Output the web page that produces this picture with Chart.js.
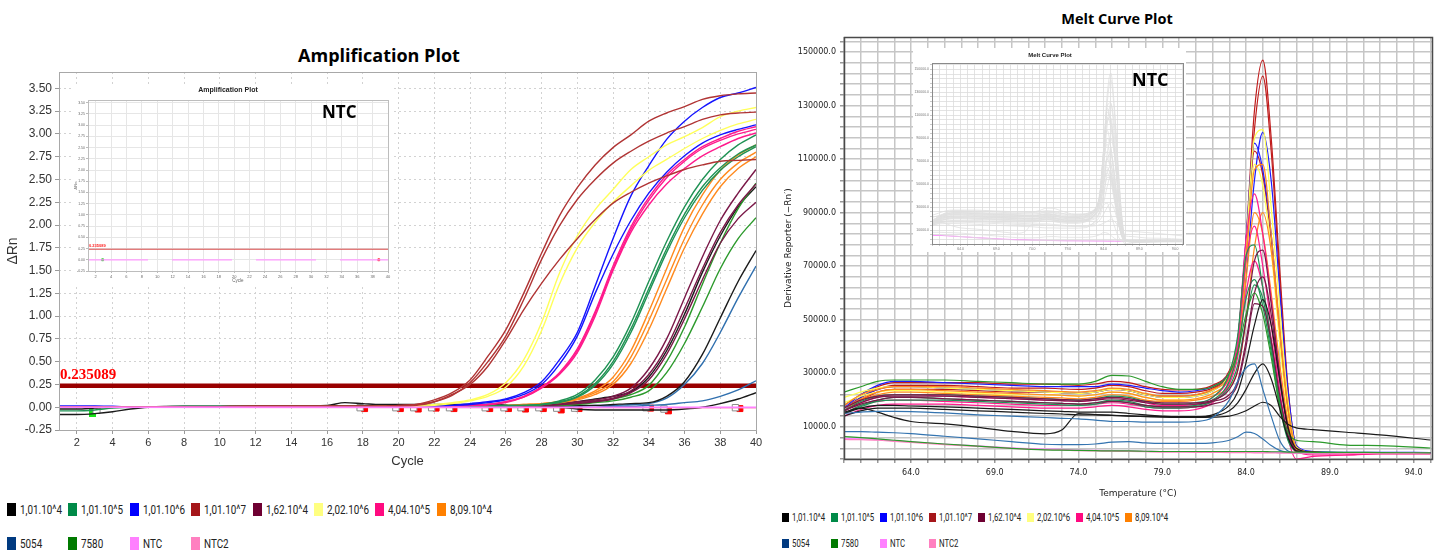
<!DOCTYPE html>
<html lang="es">
<head>
<meta charset="utf-8">
<title>Amplification Plot / Melt Curve Plot</title>
<script src="https://cdn.jsdelivr.net/npm/chart.js"></script>
<style>
  body { margin: 0; background: #fff; }
  #page { position: relative; width: 1437px; height: 552px; overflow: hidden; background: #fff; }
  #page canvas { position: absolute; }
  .plot-title { position: absolute; font-family: 'Open Sans', sans-serif; font-weight: 700; color: #000; text-align: center; white-space: nowrap; }
  .ntc { position: absolute; font-family: 'Open Sans', sans-serif; font-weight: 700; color: #000; white-space: nowrap; }
  .inset-title { position: absolute; font-family: 'Liberation Sans', Arial, sans-serif; font-weight: 700; color: #222; text-align: center; white-space: nowrap; }
  .leg-item { position: absolute; display: flex; align-items: center; white-space: nowrap; font-family: 'Roboto', sans-serif; color: #222; }
  .leg-box { display: inline-block; flex: none; }
  .leg-text { display: inline-block; transform-origin: left center; }
</style>
</head>
<body>
<div id="page">
  <div class="plot-title" style="left:279px;top:43px;width:200px;font-size:18px;line-height:24px;">Amplification Plot</div>
  <div class="plot-title" style="left:1017px;top:9px;width:200px;font-size:14.5px;line-height:20px;">Melt Curve Plot</div>

  <canvas id="amp-chart" width="770" height="420" style="left:0;top:60px"></canvas>
  <canvas id="amp-inset" width="320" height="200" style="left:73px;top:85px;background:#fff"></canvas>
  <div class="inset-title" style="left:178px;top:86px;width:100px;font-size:7px;line-height:8px;">Amplification Plot</div>
  <div class="ntc" style="left:322px;top:100px;font-size:17px;line-height:24px;">NTC</div>

  <canvas id="melt-chart" width="667" height="505" style="left:770px;top:0"></canvas>
  <canvas id="melt-inset" width="273" height="204" style="left:913px;top:48px;background:#fff"></canvas>
  <div class="inset-title" style="left:1010px;top:51px;width:80px;font-size:6px;line-height:8px;">Melt Curve Plot</div>
  <div class="ntc" style="left:1132px;top:67px;font-size:18px;line-height:25px;">NTC</div>
</div>

<script>
//MUESTRAS Y COLORES
const sampleNames = ['1,01.10^4', '1,01.10^5', '1,01.10^6', '1,01.10^7', '1,62.10^4', '2,02.10^6',
    '4,04.10^5', '8,09.10^4', '5054', '7580', 'NTC', 'NTC2'];
const legendColors = ['#000000', '#008a48', '#0000ff', '#a5161a', '#6e0032', '#ffff80',
    '#ff0a80', '#ff8000', '#003a80', '#007a00', '#ff80ff', '#ff80c0'];
const lineColors = ['#1a1a1a', '#1f9254', '#1414ff', '#b03434', '#7a1848', '#ffff5a',
    '#ff1a8c', '#ff8a1e', '#2f6fae', '#2c9a2c', '#ff80ff', '#ff80c0'];
const meltColors = ['#1a1a1a', '#1f9254', '#1c1cff', '#c01c1c', '#7a1848', '#ffff50',
    '#ff1a8c', '#ff8a1e', '#3474b0', '#2c9a2c', '#ff80ff', '#ff80c0'];

//AMPLIFICACION (ciclo / delta Rn)
const ampCycles = [1, 2, 3, 4, 5, 6, 8, 12, 16, 17, 18, 19, 20, 21, 22, 23, 24,
    25, 26, 27, 28, 29, 30, 31, 32, 33, 34, 35, 36, 37, 38, 39, 40];
const ampXTicks = [2, 4, 6, 8, 10, 12, 14, 16, 18, 20, 22, 24, 26, 28, 30, 32, 34, 36, 38, 40];
const ampYTicks = [-0.25, 0, 0.25, 0.5, 0.75, 1, 1.25, 1.5, 1.75, 2, 2.25, 2.5, 2.75, 3, 3.25, 3.5];

const ampRedA = [0, 0, 0, 0, 0, 0, 0, 0.01, 0.01, 0.01, 0.01, 0.01, 0.02, 0.03, 0.08,
    0.16, 0.30, 0.56, 0.85, 1.25, 1.69, 2.10, 2.41, 2.66, 2.85, 2.99, 3.14, 3.23, 3.30, 3.38, 3.42, 3.44, 3.45];
const ampRedB = [0, 0, 0, 0, 0, 0, 0, 0.01, 0.01, 0.01, 0.01, 0.01, 0.01, 0.02, 0.06,
    0.13, 0.27, 0.50, 0.78, 1.18, 1.62, 1.99, 2.28, 2.50, 2.68, 2.81, 2.92, 3.01, 3.08, 3.16, 3.21, 3.23, 3.24];
const ampRedC = [0, 0, 0, 0, 0, 0, 0, 0.01, 0.01, 0.01, 0.01, 0.01, 0.02, 0.03, 0.06,
    0.14, 0.25, 0.45, 0.74, 1.07, 1.36, 1.62, 1.85, 2.06, 2.24, 2.36, 2.46, 2.54, 2.61, 2.66, 2.70, 2.71, 2.72];
const ampYellowA = [0, 0, 0, 0, 0, 0, 0, 0, 0, 0, 0, 0.01, 0.01, 0.02, 0.03,
    0.05, 0.08, 0.14, 0.27, 0.52, 0.93, 1.47, 1.88, 2.17, 2.39, 2.61, 2.75, 2.88, 2.97, 3.07, 3.19, 3.25, 3.29];
const ampYellowB = [0, 0, 0, 0, 0, 0, 0, 0, 0, 0, 0, 0.01, 0.01, 0.01, 0.02,
    0.04, 0.07, 0.12, 0.22, 0.45, 0.84, 1.35, 1.75, 2.03, 2.25, 2.43, 2.60, 2.72, 2.84, 2.95, 3.04, 3.11, 3.16];
const ampBlueA = [0.01, 0.01, 0.01, 0.01, 0, 0, 0, 0, 0, 0, 0, 0, 0, 0.01, 0.01,
    0.02, 0.04, 0.06, 0.09, 0.16, 0.28, 0.52, 0.82, 1.33, 1.85, 2.32, 2.65, 2.94, 3.14, 3.29, 3.40, 3.45, 3.51];
const ampBlueB = [0.01, 0.01, 0.01, 0, 0, 0, 0, 0, 0, 0, 0, 0, 0, 0, 0.01,
    0.02, 0.03, 0.05, 0.08, 0.14, 0.25, 0.47, 0.78, 1.25, 1.68, 2.05, 2.35, 2.58, 2.76, 2.90, 2.99, 3.05, 3.10];
const ampPinkA = [0, 0, 0, 0, 0, 0, 0, 0, 0, 0, 0, 0, 0, 0, 0.01,
    0.01, 0.02, 0.03, 0.06, 0.12, 0.22, 0.38, 0.64, 1.05, 1.55, 1.98, 2.30, 2.55, 2.72, 2.86, 2.95, 3.03, 3.08];
const ampPinkB = [0, 0, 0, 0, 0, 0, 0, 0, 0, 0, 0, 0, 0, 0, 0.01,
    0.01, 0.02, 0.03, 0.05, 0.11, 0.21, 0.36, 0.60, 1.00, 1.50, 1.92, 2.22, 2.45, 2.62, 2.76, 2.86, 2.95, 3.01];
const ampPinkC = [0, 0, 0, 0, 0, 0, 0, 0, 0, 0, 0, 0, 0, 0, 0.01,
    0.01, 0.02, 0.03, 0.06, 0.11, 0.22, 0.37, 0.62, 1.03, 1.52, 1.95, 2.27, 2.52, 2.70, 2.84, 2.93, 3.00, 3.05];
const ampGreenA = [-0.04, -0.04, -0.03, -0.01, 0, 0, 0.01, 0.01, 0.01, 0.01, 0.01, 0.01, 0.01, 0.01, 0.01,
    0.01, 0.01, 0.01, 0.02, 0.02, 0.03, 0.07, 0.14, 0.30, 0.55, 0.92, 1.38, 1.82, 2.20, 2.50, 2.72, 2.88, 2.99];
const ampGreenB = [0, 0, 0, 0, 0, 0, 0, 0.01, 0.01, 0.01, 0.01, 0.01, 0.01, 0.01, 0.01,
    0.01, 0.01, 0.01, 0.02, 0.02, 0.03, 0.06, 0.12, 0.26, 0.50, 0.86, 1.30, 1.74, 2.12, 2.42, 2.63, 2.78, 2.88];
const ampGreenC = [0, 0, 0, 0, 0, 0, 0, 0.01, 0.01, 0.01, 0.01, 0.01, 0.01, 0.01, 0.01,
    0.01, 0.01, 0.01, 0.01, 0.02, 0.03, 0.05, 0.11, 0.24, 0.47, 0.82, 1.26, 1.70, 2.08, 2.38, 2.60, 2.75, 2.86];
const ampOrangeA = [0, 0, 0, 0, 0, 0, 0, 0, 0, 0, 0, 0, 0, 0, 0,
    0.01, 0.01, 0.01, 0.02, 0.03, 0.04, 0.06, 0.10, 0.18, 0.33, 0.62, 1.05, 1.52, 1.98, 2.33, 2.60, 2.77, 2.88];
const ampOrangeB = [0, 0, 0, 0, 0, 0, 0, 0, 0, 0, 0, 0, 0, 0, 0,
    0.01, 0.01, 0.01, 0.02, 0.03, 0.04, 0.06, 0.09, 0.16, 0.28, 0.55, 0.95, 1.40, 1.85, 2.22, 2.50, 2.68, 2.80];
const ampOrangeC = [0, 0, 0, 0, 0, 0, 0, 0, 0, 0, 0, 0, 0, 0, 0,
    0.01, 0.01, 0.01, 0.01, 0.02, 0.03, 0.05, 0.08, 0.14, 0.25, 0.48, 0.85, 1.30, 1.75, 2.12, 2.42, 2.62, 2.75];
const ampMaroonA = [0, 0, 0, 0, 0, 0, 0, 0, 0, 0, 0, 0, 0, 0, 0,
    0, 0.01, 0.01, 0.01, 0.02, 0.03, 0.04, 0.06, 0.08, 0.12, 0.21, 0.42, 0.75, 1.20, 1.65, 2.05, 2.35, 2.61];
const ampMaroonB = [0, 0, 0, 0, 0, 0, 0, 0, 0, 0, 0, 0, 0, 0, 0,
    0, 0.01, 0.01, 0.01, 0.02, 0.02, 0.03, 0.05, 0.07, 0.10, 0.18, 0.36, 0.66, 1.08, 1.52, 1.92, 2.22, 2.45];
const ampMaroonC = [0, 0, 0, 0, 0, 0, 0, 0, 0, 0, 0, 0, 0, 0, 0,
    0, 0, 0.01, 0.01, 0.01, 0.02, 0.03, 0.04, 0.06, 0.09, 0.16, 0.30, 0.58, 0.97, 1.40, 1.80, 2.07, 2.25];
const amp7580A = [0, 0, 0, 0, 0, 0, 0, 0, 0, 0, 0, 0, 0, 0, 0,
    0, 0, 0, 0.01, 0.01, 0.02, 0.02, 0.03, 0.05, 0.07, 0.11, 0.18, 0.38, 0.70, 1.10, 1.52, 1.85, 2.08];
const amp7580B = [0, 0, 0, 0, 0, 0, 0, 0, 0, 0, 0, 0, 0, 0, 0,
    0, 0, 0, 0.01, 0.01, 0.02, 0.03, 0.04, 0.06, 0.09, 0.14, 0.24, 0.50, 0.88, 1.35, 1.80, 2.18, 2.46];
const ampBlackA = [0, 0, 0, 0, 0, 0, 0, 0, 0, 0, 0, 0, 0, 0, 0,
    0, 0, 0, 0, 0.01, 0.01, 0.01, 0.02, 0.02, 0.03, 0.04, 0.05, 0.12, 0.28, 0.58, 0.98, 1.38, 1.72];
const ampBlackB = [-0.02, -0.02, -0.01, 0, 0, 0, 0, 0, 0, 0, 0, 0, 0, 0, 0,
    0, 0.01, 0.01, 0.01, 0.02, 0.03, 0.04, 0.06, 0.09, 0.12, 0.17, 0.33, 0.62, 1.02, 1.48, 1.88, 2.20, 2.42];
const ampBlackC = [-0.08, -0.08, -0.07, -0.05, -0.02, 0, 0.01, 0.01, 0.02, 0.05, 0.04, 0.03, 0.03, 0.03, 0.03,
    0.03, 0.03, 0.03, 0.02, 0.01, 0.01, 0, -0.02, -0.03, -0.03, -0.03, -0.03, -0.03, -0.02, 0, 0.04, 0.09, 0.16];
const amp5054A = [0, 0, 0, 0, 0, 0, 0, 0, 0, 0, 0, 0, 0, 0, 0,
    0, 0, 0, 0, 0, 0.01, 0.01, 0.01, 0.02, 0.02, 0.03, 0.04, 0.10, 0.25, 0.48, 0.82, 1.20, 1.55];
const amp5054B = [0, 0, 0, 0, 0, 0, 0, 0, 0, 0, 0, 0, 0, 0, 0,
    0, 0, 0, 0, 0, 0, 0, 0, 0, 0.01, 0.01, 0.02, 0.03, 0.05, 0.07, 0.12, 0.19, 0.29];
const ntcCycles = [1, 40];
const ampNtc = [0, 0];
const ampNtc2 = [0, -0.005];

const thresholdValue = 0.235089;
const thresholdCycles = [1, 40];

//marcas Ct sobre la linea base
const ctCycles = [18.1, 20.1, 21.1, 22.1, 23.1, 25.1, 26.15, 27.1, 28.1, 29.1, 30.1, 34.1, 35.1, 39.1];
const ctValues = [-0.015, -0.015, -0.02, -0.01, -0.015, -0.015, -0.015, -0.02, -0.015, -0.03, -0.015, -0.01, -0.04, -0.015];
const ctBoxCycles = [17.85, 19.85, 20.85, 21.85, 22.85, 24.85, 25.9, 26.85, 27.85, 28.85, 29.85, 33.85, 34.85, 38.85];
const ctBoxValues = [-0.005, -0.005, -0.005, -0.005, -0.005, -0.005, -0.005, -0.005, -0.005, -0.01, -0.01, -0.005, -0.02, -0.005];
const startBoxCycles = [3.1];
const startBoxValues = [-0.03];
const startMarkCycles = [2.9];
const startMarkValues = [-0.05];

//MELT (temperatura / derivada, en miles)
const meltTemps = [60, 61, 62, 63, 64, 66, 68, 70, 72, 73, 74, 75, 76, 77, 78, 79,
    80, 81, 82, 83, 83.5, 84, 84.5, 85, 85.5, 86, 86.5, 87, 88, 90, 92, 95];
const meltXLabels = [64, 69, 74, 79, 84, 89, 94];
const meltYLabels = [10, 30, 50, 70, 90, 110, 130, 150];

const meltRedA = [18, 22, 25, 26.5, 26.5, 26.5, 26.5, 26, 26, 25.8, 25.5, 26, 27, 26.5, 25, 24,
    23.8, 24, 25.5, 31, 42, 80, 128, 147, 118, 70, 25, 3, 0.5, 0.3, 0.3, 0.2];
const meltRedB = [17, 21, 24, 25.5, 25.5, 25.5, 25, 24.5, 24.5, 24.2, 24, 24.5, 25.5, 25, 23.5, 22.5,
    22.5, 23, 24.5, 30, 40, 75, 121, 141, 113, 66, 23, 2.5, 0.5, 0.3, 0.3, 0.3];
const meltRedC = [16, 20, 23, 24, 24, 24, 23.5, 23, 23, 22.8, 22.5, 23, 24, 23.5, 22, 21.5,
    21.5, 22, 24, 30, 42, 78, 113, 104, 80, 45, 16, 2, 0.5, 0.3, 0.3, 0.3];
const meltYellowA = [21, 23, 24.5, 25, 25, 24.5, 24, 23.5, 23, 22.8, 22.5, 23, 24, 23.5, 22, 21,
    21, 21.5, 23.5, 30, 42, 78, 118, 121, 92, 55, 20, 2.5, 0.5, 0.3, 0.3, 0.3];
const meltYellowB = [19, 21.5, 23, 23.5, 23.5, 23, 22.5, 22, 22, 21.8, 21.5, 22, 23, 22.5, 21, 20,
    20, 20.5, 22.5, 28, 38, 70, 108, 100, 76, 42, 14, 2, 0.5, 0.3, 0.3, 0.3];
const meltBlueA = [17, 22, 25.5, 27, 27, 26.5, 26, 25.5, 25, 25, 25, 25, 26, 25.5, 24.5, 23.5,
    23, 23.5, 25, 30, 38, 66, 102, 120, 102, 62, 24, 3, 0.8, 0.5, 0.5, 0.4];
const meltBlueB = [16, 21, 24, 25, 25, 24.5, 24, 23.5, 23, 22.8, 22.5, 23, 24, 23.5, 22, 21,
    21, 21.5, 23.5, 30, 42, 80, 116, 106, 82, 46, 16, 2, 0.5, 0.4, 0.4, 0.3];
const meltOrangeA = [18, 22, 24, 25, 25, 25, 24.5, 24, 23.5, 23.2, 23, 23.5, 24.5, 24, 22.5, 21.5,
    21.5, 22, 24, 29, 40, 72, 106, 108, 82, 48, 17, 2, 0.5, 0.3, 0.3, 0.3];
const meltOrangeB = [17, 20.5, 23, 24, 24, 23.5, 23, 22.5, 22, 21.8, 21.5, 22, 23, 22.5, 21, 20,
    20, 20.5, 22.5, 28, 38, 65, 90, 82, 60, 34, 12, 1.5, 0.5, 0.3, 0.3, 0.3];
const meltOrangeC = [16, 20, 22, 23, 23, 22.5, 22, 21.5, 21, 20.8, 20.5, 21, 22, 21.5, 20, 19.5,
    19.5, 20, 21.5, 25, 31, 50, 77, 90, 76, 46, 17, 2, 0.5, 0.3, 0.3, 0.3];
const meltPinkA = [16, 19, 21, 22, 22, 21.5, 21, 20.5, 20, 19.8, 19.5, 20, 21, 20.5, 19, 18,
    18, 18.5, 21, 29, 42, 80, 97, 82, 58, 30, 10, 1, -0.5, -0.5, 0, 0];
const meltPinkB = [14, 16.5, 18, 18.5, 18.5, 18.5, 18, 17.5, 17, 17, 17, 17.5, 18, 17.5, 16.5, 16,
    16, 16.5, 19, 27, 40, 72, 85, 70, 48, 24, 6, -2, -1, -0.5, 0, 0];
const meltPinkC = [15, 18, 19.5, 20, 20, 19.5, 19, 18.5, 18, 18, 18, 18.5, 19, 18.5, 17.5, 17,
    17, 17.5, 19.5, 26, 36, 60, 72, 62, 43, 22, 7, 0.5, 0, 0, 0, 0];
const meltGreenA = [16, 19.5, 21.5, 22, 22, 22, 21.5, 21, 20.5, 20.2, 20, 20.5, 21.5, 21, 19.5, 18.5,
    18.5, 19, 21, 30, 44, 74, 78, 62, 42, 20, 6, 1, 0.5, 0.4, 0.4, 0.3];
const meltGreenB = [15, 18, 20, 21, 21, 20.5, 20, 19.5, 19, 18.8, 18.5, 19, 20, 19.5, 18, 17.5,
    17.5, 18, 20, 27, 38, 58, 65, 55, 38, 18, 5, 1, 0.5, 0.4, 0.4, 0.3];
const meltGreenC = [15, 17.5, 19.5, 20, 20, 20, 19.5, 19, 18.5, 18.2, 18, 18.5, 19.5, 19, 17.5, 17,
    17, 17.5, 19.5, 25, 33, 50, 63, 58, 40, 20, 6, 1, 0.5, 0.4, 0.4, 0.3];
const meltMaroonA = [17, 20, 21.5, 22, 22, 22, 21.5, 21, 20.5, 20.2, 20, 20.5, 21, 20.5, 19.5, 19,
    19, 19, 20, 24, 31, 50, 72, 76, 56, 30, 10, 1, 0.5, 0.3, 0.3, 0.3];
const meltMaroonB = [16, 19, 21, 21.5, 21.5, 21.5, 21, 20.5, 20, 19.8, 19.5, 20, 20.5, 20, 19, 18.5,
    18.5, 18.5, 19.5, 22, 27, 42, 60, 66, 52, 28, 9, 1, 0.5, 0.3, 0.3, 0.3];
const meltMaroonC = [16, 18.5, 20, 21, 21, 20.5, 20, 19.5, 19, 18.8, 18.5, 19, 19.5, 19, 18, 17.5,
    17.5, 17.5, 18.5, 21, 26, 40, 56, 55, 42, 22, 7, 1, 0.5, 0.3, 0.3, 0.3];
const melt7580A = [23, 25, 27, 27.5, 27.5, 27.5, 27, 26.5, 26, 26, 26, 27, 29.2, 29, 27, 25,
    24, 24, 25, 30, 38, 52, 60, 52, 36, 18, 8, 5, 4.5, 3.2, 3.0, 2.1];
const melt7580B = [6.4, 6.0, 5.5, 5.0, 4.5, 3.6, 2.8, 2.0, 1.4, 1.3, 1.2, 1.1, 1.0, 1.0, 0.9, 0.8,
    0.8, 0.8, 0.8, 0.8, 0.8, 0.8, 0.8, 0.8, 0.7, 0.7, 0.6, 0.6, 0.5, 0.5, 0.4, 0.3];
const meltBlackA = [15, 17, 18, 18, 17.8, 17.5, 17, 16.5, 16, 15.8, 15.5, 15.5, 15.5, 15, 14.5, 14,
    13.8, 13.8, 14.5, 18, 23, 34, 48, 57.5, 48, 28, 10, 2, 0.5, 0.3, 0.3, 0.3];
const meltBlackB = [15.5, 17, 15.5, 13.5, 12, 11.1, 9.8, 8.3, 7.4, 8.8, 15, 14.6, 14.3, 14.1, 14, 13.8,
    13.7, 13.7, 14, 16, 19, 24, 30, 33.5, 28, 17, 6, 1, 0.5, 0.3, 0.3, 0.3];
const meltBlackC = [14, 16, 17, 17, 17, 16.5, 16, 15.5, 15, 14.8, 14.5, 14.5, 14.3, 14, 13.8, 13.6,
    13.5, 13.5, 13.6, 14, 14.8, 16, 17.8, 19.2, 18, 14, 11, 9.6, 9, 8, 7, 5.1];
const melt5054A = [15, 15.5, 15.8, 15.8, 15.7, 15.2, 14.5, 14, 13.5, 13.2, 13, 12.5, 12, 12, 11.8, 11.8,
    11.8, 12, 13.5, 20, 27, 32, 33.5, 24, 14, 5, 1, 0.3, 0.3, 0.3, 0.3, 0.3];
const melt5054B = [8.2, 8.2, 8, 7.8, 7.5, 6.5, 5.5, 4.5, 3.5, 3.4, 3.4, 3.6, 4.3, 4.5, 4, 3.8,
    3.8, 3.8, 4, 5, 6.3, 8, 7.5, 5.5, 3, 1.2, 0.5, 0.3, 0.3, 0.3, 0.3, 0.3];
const meltNtc = [5.6, 5.5, 5.2, 4.8, 4.4, 3.6, 2.9, 2.2, 1.7, 1.6, 1.3, 1.2, 1.1, 1.0, 0.9, 0.8,
    0.8, 0.7, 0.7, 0.6, 0.6, 0.6, 0.5, 0.5, 0.5, 0.4, 0.4, 0.4, 0.3, 0.3, 0.2, 0.2];
const meltNtc2 = [5.3, 5.2, 5.0, 4.6, 4.2, 3.4, 2.7, 2.0, 1.5, 1.4, 1.1, 1.0, 0.9, 0.8, 0.7, 0.6,
    0.6, 0.5, 0.5, 0.4, 0.4, 0.4, 0.3, 0.3, 0.3, 0.2, 0.2, 0.2, 0.2, 0.1, 0.1, 0.1];

//tablas [muestra, valores]
const ampCurves = [
    [10, ampNtc, ntcCycles], [11, ampNtc2, ntcCycles],
    [3, ampRedA], [3, ampRedB], [3, ampRedC],
    [5, ampYellowA], [5, ampYellowB],
    [2, ampBlueA], [2, ampBlueB],
    [6, ampPinkA], [6, ampPinkB], [6, ampPinkC],
    [1, ampGreenA], [1, ampGreenB], [1, ampGreenC],
    [7, ampOrangeA], [7, ampOrangeB], [7, ampOrangeC],
    [4, ampMaroonA], [4, ampMaroonB], [4, ampMaroonC],
    [9, amp7580A], [9, amp7580B],
    [0, ampBlackA], [0, ampBlackB], [0, ampBlackC],
    [8, amp5054A], [8, amp5054B]
];
const meltCurves = [
    [9, melt7580B], [11, meltNtc2], [10, meltNtc],
    [8, melt5054B], [8, melt5054A],
    [0, meltBlackC], [0, meltBlackB], [0, meltBlackA],
    [9, melt7580A],
    [4, meltMaroonC], [4, meltMaroonB], [4, meltMaroonA],
    [1, meltGreenC], [1, meltGreenB], [1, meltGreenA],
    [6, meltPinkC], [6, meltPinkB], [6, meltPinkA],
    [7, meltOrangeC], [7, meltOrangeB], [7, meltOrangeA],
    [5, meltYellowB], [5, meltYellowA],
    [2, meltBlueB], [2, meltBlueA],
    [3, meltRedC], [3, meltRedB], [3, meltRedA]
];

function toPoints(xs, ys) {
    return xs.map(function (x, i) { return { x: x, y: ys[i] }; });
}

//marco del area de trazado
const plotFrame = {
    id: 'plotFrame',
    afterDatasetsDraw(chart, args, opts) {
        const a = chart.chartArea;
        const ctx = chart.ctx;
        ctx.save();
        ctx.strokeStyle = opts.color || '#999';
        ctx.lineWidth = opts.width || 1;
        ctx.strokeRect(Math.round(a.left) + 0.5, Math.round(a.top) + 0.5,
            Math.round(a.right - a.left), Math.round(a.bottom - a.top));
        ctx.restore();
    }
};

//etiqueta del umbral
const thresholdText = {
    id: 'thresholdText',
    afterDatasetsDraw(chart, args, opts) {
        if (!opts || !opts.text) return;
        const ctx = chart.ctx;
        const x = chart.scales.x.getPixelForValue(opts.x);
        const y = chart.scales.y.getPixelForValue(opts.y);
        ctx.save();
        ctx.font = opts.font;
        ctx.fillStyle = opts.color;
        ctx.textBaseline = 'bottom';
        ctx.fillText(opts.text, x + opts.dx, y - opts.dy);
        ctx.restore();
    }
};

function fixedTicks(values) {
    return function (scale) {
        scale.ticks = values.map(function (v) { return { value: v }; });
    };
}

function stepTicks(from, to, step) {
    const list = [];
    for (let v = from; v <= to + 1e-9; v += step) list.push(Math.round(v * 1000) / 1000);
    return list;
}

//marca verde alta (inicio)
const greenMark = document.createElement('canvas');
greenMark.width = 7;
greenMark.height = 11;
greenMark.getContext('2d').fillStyle = '#19e619';
greenMark.getContext('2d').fillRect(0, 0, 7, 11);

//GRAFICA AMPLIFICACION
const ampDatasets = ampCurves.map(function (c) {
    return {
        data: toPoints(c[2] || ampCycles, c[1]),
        borderColor: lineColors[c[0]],
        borderWidth: 1.4,
        pointRadius: 0,
        cubicInterpolationMode: 'monotone'
    };
});

ampDatasets.push({
    data: toPoints(thresholdCycles, [thresholdValue, thresholdValue]),
    borderColor: '#990000',
    borderWidth: 4.5,
    pointRadius: 0
});
ampDatasets.push({
    data: toPoints(startBoxCycles, startBoxValues),
    showLine: false,
    pointStyle: 'rect',
    pointRadius: 5,
    pointBackgroundColor: '#ffffff',
    pointBorderColor: '#8a8a8a',
    pointBorderWidth: 1
});
ampDatasets.push({
    data: toPoints(startMarkCycles, startMarkValues),
    showLine: false,
    pointStyle: greenMark,
    pointRadius: 5
});
ampDatasets.push({
    data: toPoints(ctBoxCycles, ctBoxValues),
    showLine: false,
    pointStyle: 'rect',
    pointRadius: 4.5,
    pointBackgroundColor: '#ffffff',
    pointBorderColor: '#8a8a8a',
    pointBorderWidth: 1
});
ampDatasets.push({
    data: toPoints(ctCycles, ctValues),
    showLine: false,
    pointStyle: 'rect',
    pointRadius: 4.2,
    pointBackgroundColor: '#ff0000',
    pointBorderColor: '#ff0000'
});

new Chart(document.getElementById('amp-chart'), {
    type: 'line',
    data: { datasets: ampDatasets },
    plugins: [plotFrame, thresholdText],
    options: {
        responsive: false,
        animation: false,
        devicePixelRatio: 1,
        layout: { padding: { top: 12, right: 14, left: 0, bottom: 0 } },
        plugins: {
            legend: { display: false },
            tooltip: { enabled: false },
            plotFrame: { color: '#a8a8a8', width: 1 },
            thresholdText: {
                text: String(thresholdValue), x: 1, y: thresholdValue, dx: 1, dy: 3,
                font: 'bold 15px "Liberation Serif", serif', color: '#ff0000'
            }
        },
        scales: {
            x: {
                type: 'linear', min: 1, max: 40,
                afterFit: function (s) { s.height = 50; },
                afterBuildTicks: fixedTicks(ampXTicks),
                grid: { color: '#d2d2d2', tickLength: 4, tickColor: '#9a9a9a' },
                border: { display: false, dash: [2, 3] },
                ticks: { autoSkip: false, maxRotation: 0, padding: 2, color: '#333', font: { size: 11, family: 'Liberation Sans' } },
                title: { display: true, text: 'Cycle', color: '#333', font: { size: 13, family: 'Liberation Sans' }, padding: { top: 0, bottom: 11 } }
            },
            y: {
                type: 'linear', min: -0.25, max: 3.68,
                afterFit: function (s) { s.width = 59; },
                afterBuildTicks: fixedTicks(ampYTicks),
                grid: { color: '#d2d2d2', tickLength: 4, tickColor: '#9a9a9a' },
                border: { display: false, dash: [2, 3] },
                ticks: {
                    padding: 3, color: '#333', font: { size: 12, family: 'Liberation Sans' },
                    callback: function (v) { return v.toFixed(2); }
                },
                title: { display: true, text: 'ΔRn', color: '#333', font: { size: 14, family: 'Liberation Sans' }, padding: { top: 5, bottom: 0 } }
            }
        }
    }
});

//inserto NTC amplificacion
new Chart(document.getElementById('amp-inset'), {
    type: 'line',
    data: {
        datasets: [{
            data: toPoints(ntcCycles, ampNtc),
            borderColor: '#ff9cff',
            borderWidth: 1.2,
            borderDash: [60, 24],
            pointRadius: 0
        }, {
            data: toPoints(thresholdCycles, [thresholdValue, thresholdValue]),
            borderColor: '#d84848',
            borderWidth: 1,
            pointRadius: 0
        }, {
            data: toPoints(startMarkCycles, [0]),
            showLine: false, pointStyle: 'rect', pointRadius: 1.3,
            pointBackgroundColor: '#22cc22', pointBorderColor: '#22cc22'
        }, {
            data: toPoints([38.8], [0]),
            showLine: false, pointStyle: 'rect', pointRadius: 1.3,
            pointBackgroundColor: '#ff2020', pointBorderColor: '#ff2020'
        }]
    },
    plugins: [plotFrame, thresholdText],
    options: {
        responsive: false,
        animation: false,
        devicePixelRatio: 1,
        layout: { padding: { top: 15, right: 4, left: 0, bottom: 0 } },
        plugins: {
            legend: { display: false },
            tooltip: { enabled: false },
            plotFrame: { color: '#bdbdbd', width: 1 },
            thresholdText: {
                text: String(thresholdValue), x: 1, y: thresholdValue, dx: 1, dy: 1,
                font: 'bold 4px "Liberation Sans", sans-serif', color: '#ff2020'
            }
        },
        scales: {
            x: {
                type: 'linear', min: 1, max: 40,
                afterFit: function (s) { s.height = 14; },
                afterBuildTicks: fixedTicks(ampXTicks),
                grid: { color: '#e6e6e6', tickLength: 2, tickColor: '#bbb' },
                border: { display: false },
                ticks: { autoSkip: false, maxRotation: 0, padding: 1, color: '#666', font: { size: 4 } },
                title: { display: true, text: 'Cycle', color: '#666', font: { size: 4.5 }, padding: { top: 0, bottom: 2 } }
            },
            y: {
                type: 'linear', min: -0.25, max: 3.56,
                afterFit: function (s) { s.width = 15; },
                afterBuildTicks: fixedTicks(ampYTicks),
                grid: { color: '#e6e6e6', tickLength: 2, tickColor: '#bbb' },
                border: { display: false },
                ticks: { padding: 1, color: '#666', font: { size: 3.5 }, callback: function (v) { return v.toFixed(2); } },
                title: { display: true, text: 'ΔRn', color: '#666', font: { size: 4 }, padding: { top: 0, bottom: 0 } }
            }
        }
    }
});

//GRAFICA MELT
const meltGridX = stepTicks(60, 95, 1);
const meltGridY = stepTicks(-2, 154, 4);

new Chart(document.getElementById('melt-chart'), {
    type: 'line',
    data: {
        datasets: meltCurves.map(function (c) {
            return {
                data: toPoints(meltTemps, c[1]),
                borderColor: meltColors[c[0]],
                borderWidth: 1.2,
                pointRadius: 0,
                cubicInterpolationMode: 'monotone'
            };
        })
    },
    plugins: [plotFrame],
    options: {
        responsive: false,
        animation: false,
        devicePixelRatio: 1,
        layout: { padding: { top: 37, right: 5, left: 0, bottom: 0 } },
        plugins: {
            legend: { display: false },
            tooltip: { enabled: false },
            plotFrame: { color: '#4a4a4a', width: 1.5 }
        },
        scales: {
            x: {
                type: 'linear', min: 60, max: 95.1,
                afterFit: function (s) { s.height = 46; },
                afterBuildTicks: fixedTicks(meltGridX),
                grid: { color: '#c6c6c6', lineWidth: 1.5, tickLength: 4, tickColor: '#999' },
                border: { display: false },
                ticks: {
                    autoSkip: false, maxRotation: 0, padding: 5, color: '#222', font: { size: 8, family: 'DejaVu Sans' },
                    callback: function (v) { return meltXLabels.indexOf(v) >= 0 ? v.toFixed(1) : ''; }
                },
                title: { display: true, text: 'Temperature (°C)', color: '#222', font: { size: 9, family: 'DejaVu Sans' }, padding: { top: 0, bottom: 6 } }
            },
            y: {
                type: 'linear', min: -2, max: 155.6,
                afterFit: function (s) { s.width = 74; },
                afterBuildTicks: fixedTicks(meltGridY),
                grid: { color: '#c6c6c6', lineWidth: 1.5, tickLength: 4, tickColor: '#999' },
                border: { display: false },
                ticks: {
                    autoSkip: false, padding: 4, color: '#222', font: { size: 8, family: 'DejaVu Sans' },
                    callback: function (v) { return meltYLabels.indexOf(v) >= 0 ? (v * 1000).toFixed(1) : ''; }
                },
                title: { display: true, text: 'Derivative Reporter (−Rn′)', color: '#222', font: { size: 9, family: 'DejaVu Sans' }, padding: { top: 13, bottom: 0 } }
            }
        }
    }
});

//inserto NTC melt
new Chart(document.getElementById('melt-inset'), {
    type: 'line',
    data: {
        datasets: meltCurves.filter(function (c) { return c[0] < 10; }).map(function (c) {
            return {
                data: toPoints(meltTemps, c[1]),
                borderColor: '#e0e0e0',
                borderWidth: 0.8,
                pointRadius: 0,
                cubicInterpolationMode: 'monotone'
            };
        }).concat([{
            data: toPoints(meltTemps, meltNtc),
            borderColor: '#ff7aff',
            borderWidth: 1,
            pointRadius: 0,
            cubicInterpolationMode: 'monotone'
        }])
    },
    plugins: [plotFrame],
    options: {
        responsive: false,
        animation: false,
        devicePixelRatio: 1,
        layout: { padding: { top: 15, right: 3, left: 0, bottom: 0 } },
        plugins: {
            legend: { display: false },
            tooltip: { enabled: false },
            plotFrame: { color: '#8a8a8a', width: 1 }
        },
        scales: {
            x: {
                type: 'linear', min: 60, max: 95.1,
                afterFit: function (s) { s.height = 8; },
                afterBuildTicks: fixedTicks(meltGridX),
                grid: { color: '#dcdcdc', lineWidth: 0.8, tickLength: 2, tickColor: '#bbb' },
                border: { display: false },
                ticks: {
                    autoSkip: false, maxRotation: 0, padding: 1, color: '#777', font: { size: 3.5 },
                    callback: function (v) { return meltXLabels.indexOf(v) >= 0 ? v.toFixed(1) : ''; }
                }
            },
            y: {
                type: 'linear', min: -2, max: 155.6,
                afterFit: function (s) { s.width = 19; },
                afterBuildTicks: fixedTicks(meltGridY),
                grid: { color: '#dcdcdc', lineWidth: 0.8, tickLength: 2, tickColor: '#bbb' },
                border: { display: false },
                ticks: {
                    autoSkip: false, padding: 1, color: '#777', font: { size: 3.5 },
                    callback: function (v) { return meltYLabels.indexOf(v) >= 0 ? (v * 1000).toFixed(1) : ''; }
                }
            }
        }
    }
});

//LEYENDAS
function buildLegend(cfg) {
    const page = document.getElementById('page');
    sampleNames.forEach(function (name, i) {
        const row = i < 8 ? 0 : 1;
        const col = i < 8 ? i : i - 8;
        const item = document.createElement('div');
        item.className = 'leg-item';
        item.style.left = (cfg.left + col * cfg.step) + 'px';
        item.style.top = (cfg.rows[row] - 10) + 'px';
        item.style.height = '20px';
        item.style.fontSize = cfg.font + 'px';

        const box = document.createElement('span');
        box.className = 'leg-box';
        box.style.width = cfg.box[0] + 'px';
        box.style.height = cfg.box[1] + 'px';
        box.style.background = legendColors[i];
        box.style.marginRight = cfg.gap + 'px';

        const label = document.createElement('span');
        label.className = 'leg-text';
        label.style.transform = 'scaleX(' + cfg.squeeze + ')';
        label.textContent = name;

        item.appendChild(box);
        item.appendChild(label);
        page.appendChild(item);
    });
}

buildLegend({ left: 7, step: 61.4, rows: [509, 543], box: [9, 13], gap: 4, font: 13, squeeze: 0.76 });
buildLegend({ left: 782, step: 49, rows: [517, 543], box: [7, 9], gap: 3, font: 10, squeeze: 0.78 });
</script>
</body>
</html>
